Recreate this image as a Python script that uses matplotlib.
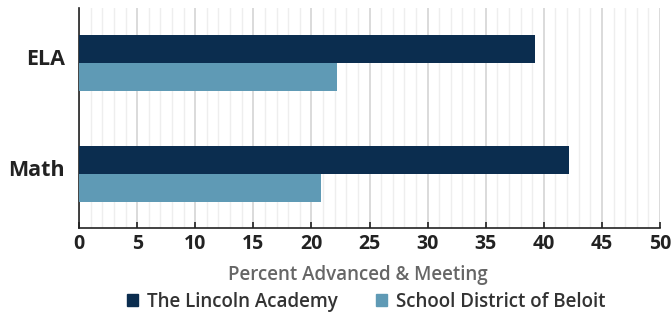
import matplotlib
matplotlib.use("Agg")
import matplotlib.pyplot as plt
import numpy as np
from matplotlib.ticker import MultipleLocator
from matplotlib.patches import Patch

categories = ["ELA", "Math"]
series_names = ["The Lincoln Academy", "School District of Beloit"]
lincoln = [39.2, 42.2]
beloit = [22.2, 20.8]
x_ticks = [0, 5, 10, 15, 20, 25, 30, 35, 40, 45, 50]
colors = ["#0b2d4f", "#5f9ab5"]

plt.rcParams['font.family'] = ['Open Sans', 'DejaVu Sans']

fig = plt.figure(figsize=(6.72, 3.16), dpi=100)
ax = fig.add_axes([0.1176, 0.2785, 0.8646, 0.6965])

y = np.arange(len(categories))
h = 0.252
ax.barh(y - h/2, lincoln, height=h, color=colors[0], zorder=3)
ax.barh(y + h/2, beloit, height=h, color=colors[1], zorder=3)

ax.set_xlim(0, 50)
ax.set_ylim(1.487, -0.495)
# labels sit slightly above the group centre, as in the reference
ax.set_yticks(y - 0.055)
ax.set_yticklabels(categories, fontsize=15.5, fontweight='bold', color='#222222')
ax.set_xticks(x_ticks)
ax.set_xticklabels([str(t) for t in x_ticks], fontsize=14, fontweight='bold', color='#222222')
ax.xaxis.set_minor_locator(MultipleLocator(1))
ax.grid(axis='x', which='minor', color='#eeeeee', lw=1, zorder=0)
ax.grid(axis='x', which='major', color='#d4d4d4', lw=1.2, zorder=1)
ax.tick_params(axis='x', which='major', direction='in', length=4, width=1.2, color='#222222', pad=4)
ax.tick_params(axis='x', which='minor', length=0)
ax.tick_params(axis='y', length=0, pad=10)
for s in ['top', 'right']:
    ax.spines[s].set_visible(False)
for s in ['left', 'bottom']:
    ax.spines[s].set_color('#222222')
    ax.spines[s].set_linewidth(1.2)

ax.set_xlabel("Percent Advanced & Meeting", fontsize=13.5, fontweight='semibold', color='#666666', labelpad=6)
ax.xaxis.set_label_coords((358 - 79) / (660 - 79), -0.17)

handles = [Patch(color=c, label=n) for c, n in zip(colors, series_names)]
leg = fig.legend(handles=handles, loc='lower center', bbox_to_anchor=(0.545, -0.04), ncol=2,
                 frameon=False, fontsize=13.5, handlelength=0.6, handleheight=0.6,
                 handletextpad=0.5, columnspacing=2.0)
for t in leg.get_texts():
    t.set_color('#333333')
    t.set_fontweight('semibold')

fig.savefig("out.png", dpi=100)
